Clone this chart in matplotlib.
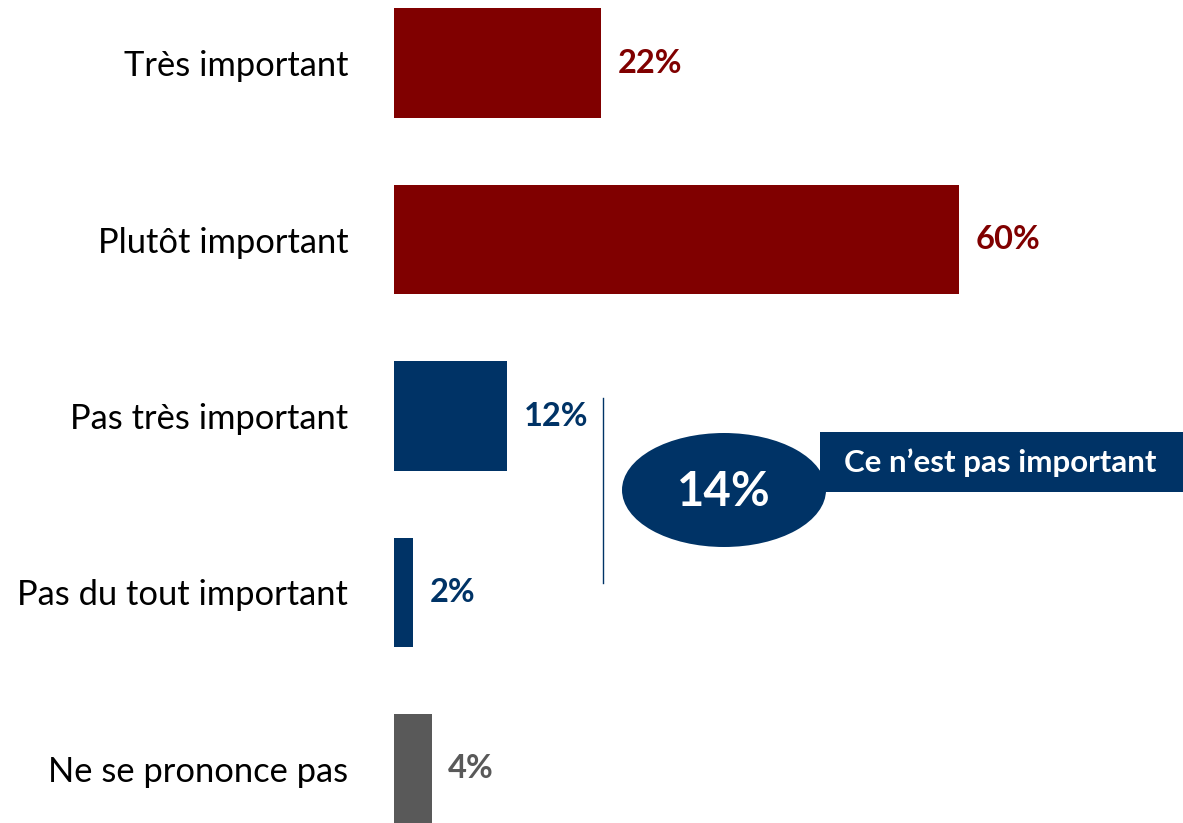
import matplotlib
matplotlib.use("Agg")
import matplotlib.pyplot as plt
from matplotlib.patches import Ellipse, Rectangle
from matplotlib.lines import Line2D

categories = ["Très important", "Plutôt important", "Pas très important",
              "Pas du tout important", "Ne se prononce pas"]
values = [22, 60, 12, 2, 4]
colors = ["#800000", "#800000", "#003366", "#003366", "#595959"]
callout_value = 14
callout_label = "Ce n\u2019est pas important"

plt.rcParams["font.family"] = ["Lato", "DejaVu Sans"]

W, H = 1183, 823
fig = plt.figure(figsize=(W / 100, H / 100), dpi=100)
ax = fig.add_axes([394 / W, 0, (W - 394) / W, 1])

pos = list(range(len(categories)))
ax.barh(pos, values, height=0.623, color=colors, edgecolor="none")
ax.set_xlim(0, (W - 394) / ((959 - 394) / 60))
ax.set_ylim(4.306, -0.357)

ax.set_yticks(pos)
ax.set_yticklabels(categories, fontsize=24.8)
ax.tick_params(axis="y", length=0, pad=33)
ax.set_xticks([])
for s in ax.spines.values():
    s.set_visible(False)

for p, v, c in zip(pos, values, colors):
    ax.annotate(f"{v}%", (v, p), xytext=(12, 0), textcoords="offset points",
                ha="left", va="center", fontsize=23.5, fontweight="bold", color=c)


# callout, placed in figure pixels
def fx(px):
    return px / W


def fy(py):
    return 1 - py / H


navy = "#003366"
fig.add_artist(Line2D([fx(603), fx(603)], [fy(398), fy(583)],
                      transform=fig.transFigure, color=navy, lw=1))
fig.add_artist(Rectangle((fx(820), fy(492)), fx(W) - fx(820), fy(432) - fy(492),
                         transform=fig.transFigure, color=navy, lw=0))
fig.add_artist(Ellipse((fx(724), fy(490)), 204 / W, 114 / H,
                       transform=fig.transFigure, color=navy, lw=0))
fig.text(fx(724), fy(492), f"{callout_value}%", ha="center", va="center",
         fontsize=34, fontweight="bold", color="white")
fig.text(fx(1000), fy(463), callout_label, ha="center", va="center",
         fontsize=22.5, fontweight="bold", color="white")

fig.savefig("out.png", dpi=100)
